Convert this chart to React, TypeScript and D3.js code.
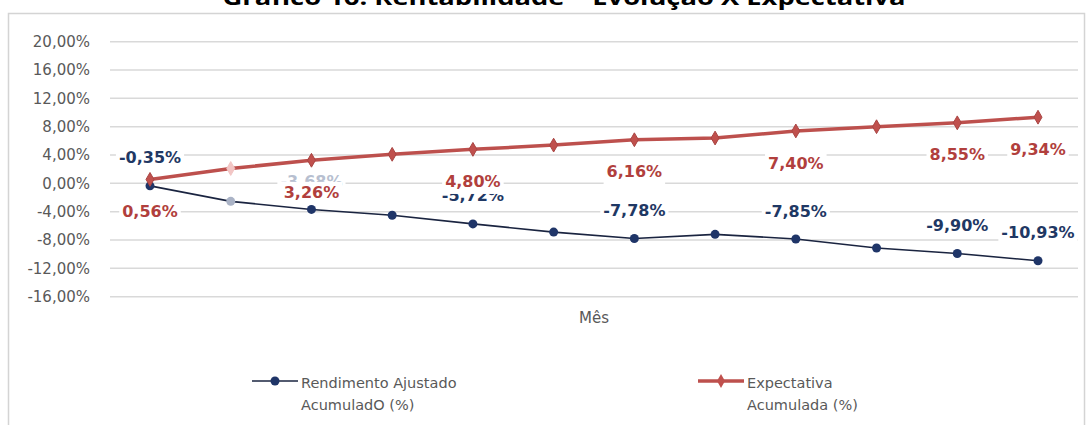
import * as d3 from "d3";
import { useEffect, useRef } from "react";

// ---- dados ----
const meses = ["Jan", "Fev", "Mar", "Abr", "Mai", "Jun", "Jul", "Ago", "Set", "Out", "Nov", "Dez"];
const rendimento = [-0.35, -2.54, -3.68, -4.5, -5.72, -6.88, -7.78, -7.2, -7.85, -9.13, -9.9, -10.93];
const expectativa = [0.56, 2.1, 3.26, 4.1, 4.8, 5.4, 6.16, 6.4, 7.4, 8.0, 8.55, 9.34];
const yTicks = [20, 16, 12, 8, 4, 0, -4, -8, -12, -16];
const rotulosIdx = [0, 2, 4, 6, 8, 10, 11];
const titulo = "Gráfico 16: Rentabilidade – Evolução X Expectativa";
const legendaRend = ["Rendimento Ajustado", "AcumuladO (%)"];
const legendaExp = ["Expectativa", "Acumulada (%)"];

export default function App() {
  const ref = useRef<SVGSVGElement | null>(null);

  useEffect(() => {
    const width = 1088;
    const height = 425;
    const plot = { left: 110, right: 1078, top: 41.7, bottom: 296.7 };

    const svg = d3.select(ref.current).attr("viewBox", `0 0 ${width} ${height}`);
    svg.selectAll("*").remove();

    const ptBR = d3.formatLocale({ decimal: ",", thousands: ".", grouping: [3], currency: ["R$", ""], minus: "-" });
    const fmt = (v: number) => ptBR.format(".2f")(v) + "%";

    // ---- escalas ----
    const x = d3.scalePoint<string>().domain(meses).range([150, 1038]);
    const y = d3.scaleLinear().domain([-16, 20]).range([plot.bottom, plot.top]);

    // título (cortado no topo)
    svg.append("text")
      .attr("x", 564)
      .attr("y", 5)
      .attr("text-anchor", "middle")
      .attr("font-family", "'Open Sans', sans-serif")
      .attr("font-weight", 700)
      .attr("font-size", 22)
      .attr("textLength", 683)
      .attr("lengthAdjust", "spacingAndGlyphs")
      .attr("fill", "#000")
      .text(titulo);

    // moldura do gráfico
    svg.append("rect")
      .attr("x", 8.5).attr("y", 13.5)
      .attr("width", 1076).attr("height", 430)
      .attr("fill", "#fff")
      .attr("stroke", "#d4d4d4")
      .attr("stroke-width", 1.5);

    // ---- grade horizontal ----
    svg.append("g")
      .selectAll("line")
      .data(yTicks)
      .join("line")
      .attr("x1", plot.left).attr("x2", plot.right)
      .attr("y1", d => y(d)).attr("y2", d => y(d))
      .attr("stroke", "#d9d9d9")
      .attr("stroke-width", 1.5);

    // ---- eixo y ----
    const ay = svg.append("g")
      .attr("transform", `translate(${plot.left},0)`)
      .call(d3.axisLeft(y).tickValues(yTicks).tickSize(0).tickPadding(20).tickFormat(d => fmt(+d)));
    ay.select(".domain").remove();
    ay.selectAll("text")
      .attr("font-family", "'DejaVu Sans', sans-serif")
      .attr("font-size", 15)
      .attr("fill", "#595959");

    // título eixo x
    svg.append("text")
      .attr("x", 594).attr("y", 318)
      .attr("dy", "0.35em")
      .attr("text-anchor", "middle")
      .attr("font-family", "'DejaVu Sans', sans-serif")
      .attr("font-size", 15)
      .attr("fill", "#595959")
      .text("Mês");

    // ---- linhas ----
    const linha = d3.line<number>().x((_, i) => x(meses[i])!).y(d => y(d));

    svg.append("path")
      .datum(rendimento)
      .attr("d", linha)
      .attr("fill", "none")
      .attr("stroke", "#1a2440")
      .attr("stroke-width", 1.6);

    svg.append("path")
      .datum(expectativa)
      .attr("d", linha)
      .attr("fill", "none")
      .attr("stroke", "#bd504d")
      .attr("stroke-width", 3.5);

    // ---- marcadores ----
    svg.append("g")
      .selectAll("circle")
      .data(rendimento)
      .join("circle")
      .attr("cx", (_, i) => x(meses[i])!)
      .attr("cy", d => y(d))
      .attr("r", 4.5)
      .attr("fill", (_, i) => (i === 1 ? "#aab3c6" : "#1f3568"));

    const losango = d3.symbol().type(d3.symbolDiamond).size(55);
    svg.append("g")
      .selectAll("path")
      .data(expectativa)
      .join("path")
      .attr("transform", (d, i) => `translate(${x(meses[i])},${y(d)})`)
      .attr("d", losango)
      .attr("fill", (_, i) => (i === 1 ? "#f2c6c5" : "#c0504d"))
      .attr("stroke", (_, i) => (i === 1 ? "#f2c6c5" : "#a94543"))
      .attr("stroke-width", 1);

    // ---- rótulos de dados (com fundo branco, como no Excel) ----
    const rotulos = (serie: number[], dy: number, cor: (i: number) => string) => {
      const g = svg.append("g");
      rotulosIdx.forEach(i => {
        const t = g.append("text")
          .attr("x", x(meses[i])!)
          .attr("y", y(serie[i]) + dy)
          .attr("dy", "0.35em")
          .attr("text-anchor", "middle")
          .attr("font-family", "'DejaVu Sans', sans-serif")
          .attr("font-weight", 700)
          .attr("font-size", 16)
          .attr("fill", cor(i))
          .text(fmt(serie[i]));
        const b = (t.node() as SVGTextElement).getBBox();
        g.insert("rect", () => t.node())
          .attr("x", b.x - 3).attr("y", b.y - 1)
          .attr("width", b.width + 6).attr("height", b.height + 4)
          .attr("fill", "#fff");
      });
    };
    rotulos(rendimento, -28, i => (i === 2 ? "#b7bfd0" : "#1f3864"));
    rotulos(expectativa, 32, () => "#b13f3d");

    // ---- legenda ----
    const legenda = (x0: number, textos: string[], cor: string, lw: number, marcador: "c" | "d") => {
      const g = svg.append("g").attr("transform", `translate(${x0},381)`);
      g.append("line").attr("x1", 0).attr("x2", 46).attr("y1", 0).attr("y2", 0)
        .attr("stroke", cor).attr("stroke-width", lw);
      if (marcador === "c") {
        g.append("circle").attr("cx", 23).attr("cy", 0).attr("r", 4.5).attr("fill", "#1f3568");
      } else {
        g.append("path").attr("transform", "translate(23,0)").attr("d", losango).attr("fill", "#c0504d");
      }
      g.selectAll("text.leg")
        .data(textos)
        .join("text")
        .attr("class", "leg")
        .attr("x", 49)
        .attr("y", (_, k) => 2 + k * 22)
        .attr("dy", "0.35em")
        .attr("font-family", "'DejaVu Sans', sans-serif")
        .attr("font-size", 14.5)
        .attr("fill", "#595959")
        .text(d => d);
    };
    legenda(252, legendaRend, "#1a2440", 1.6, "c");
    legenda(698, legendaExp, "#bd504d", 3.5, "d");
  }, []);

  return (
    <svg
      ref={ref}
      width={1088}
      height={425}
      style={{ position: "absolute", left: 0, top: 0, background: "#fff" }}
    />
  );
}
